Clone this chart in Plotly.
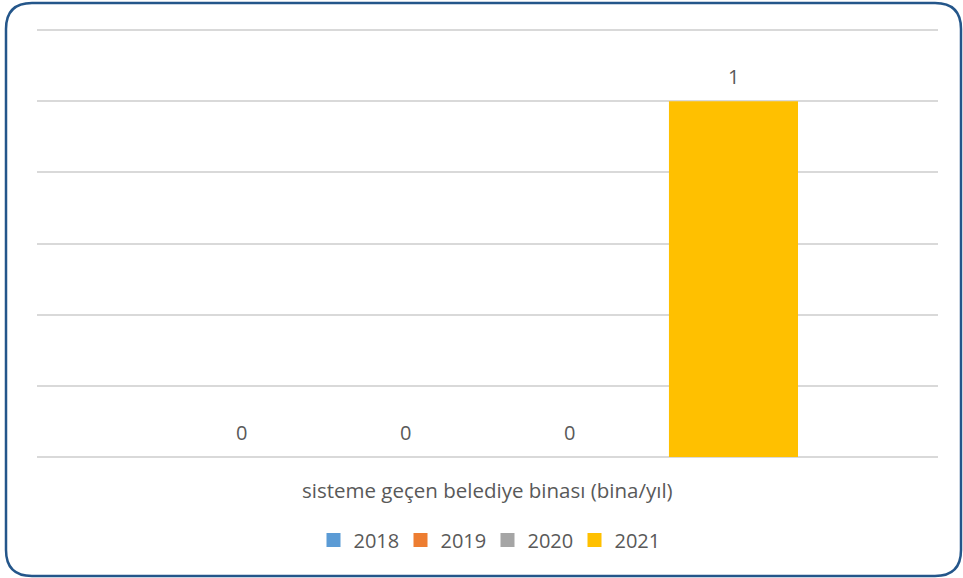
import plotly.graph_objects as go

# Data
category = ["sisteme geçen belediye binası (bina/yıl)"]
years = ["2018", "2019", "2020", "2021"]
values = [0, 0, 0, 1]
colors = ["#5B9BD5", "#ED7D31", "#A5A5A5", "#FFC000"]

W, H = 963, 578
ML, MR, MT, MB = 37, 25, 22, 121
PW, PH = W - ML - MR, H - MT - MB
# value axis: 0 sits at the plot bottom, 1.2 sits 8px below the plot top
Y_TOP = 1.2 * PH / (PH - 8)

FONT = "Open Sans"
TXT = "#595959"

fig = go.Figure()
for yr, v, c in zip(years, values, colors):
    fig.add_trace(go.Bar(name=yr, x=category, y=[v], showlegend=False,
                         marker=dict(color=c, line_width=0)))
# square legend keys
for yr, c in zip(years, colors):
    fig.add_trace(go.Scatter(name=yr, x=[None], y=[None], mode="markers",
                             marker=dict(symbol="square", size=14, color=c),
                             showlegend=True, hoverinfo="skip"))

# value labels above each bar
slot = PW * (1 - 0.272) / len(years)
for i, v in enumerate(values):
    fig.add_annotation(
        x=category[0], y=v, xref="x", yref="y",
        text=str(v), showarrow=False,
        xshift=(i - (len(years) - 1) / 2) * slot,
        yanchor="middle", yshift=25,
        font=dict(family=FONT, size=20, color=TXT),
    )

# category name under the plot area
fig.add_annotation(
    x=0.5, y=-(490 - (H - MB)) / PH, xref="paper", yref="paper",
    text=category[0], showarrow=False, yanchor="middle",
    font=dict(family=FONT, size=20.5, color=TXT),
)


# rounded outer frame, built in pixels and converted to paper units
def px(X):
    return (X - ML) / PW


def py(Y):
    return (H - MB - Y) / PH


x0, y0, x1, y1, r = 6, 3, 961, 576, 26
pts = (
    f"M{px(x0 + r)},{py(y0)} H{px(x1 - r)} Q{px(x1)},{py(y0)} {px(x1)},{py(y0 + r)} "
    f"V{py(y1 - r)} Q{px(x1)},{py(y1)} {px(x1 - r)},{py(y1)} "
    f"H{px(x0 + r)} Q{px(x0)},{py(y1)} {px(x0)},{py(y1 - r)} "
    f"V{py(y0 + r)} Q{px(x0)},{py(y0)} {px(x0 + r)},{py(y0)} Z"
)
fig.add_shape(type="path", path=pts, xref="paper", yref="paper",
              line=dict(color="#24568A", width=2.5), layer="above")

fig.update_layout(
    width=W, height=H,
    margin=dict(l=ML, r=MR, t=MT, b=MB),
    paper_bgcolor="white", plot_bgcolor="white",
    barmode="group", bargap=0.272, bargroupgap=0.213,
    font=dict(family=FONT, color=TXT),
    showlegend=True,
    legend=dict(
        orientation="h", x=0.5, xanchor="center",
        y=-(540 - (H - MB)) / PH, yanchor="middle",
        font=dict(family=FONT, size=20, color=TXT),
        itemwidth=30, traceorder="normal",
        entrywidth=42, entrywidthmode="pixels",
    ),
    xaxis=dict(showticklabels=False, ticks="", showgrid=False, showline=False, zeroline=False),
    yaxis=dict(range=[0, Y_TOP], dtick=0.2, showticklabels=False, ticks="",
               showgrid=True, gridcolor="#D9D9D9", gridwidth=1.5,
               zeroline=True, zerolinecolor="#D9D9D9", zerolinewidth=1.5, showline=False),
)

fig.write_html("out.html")
